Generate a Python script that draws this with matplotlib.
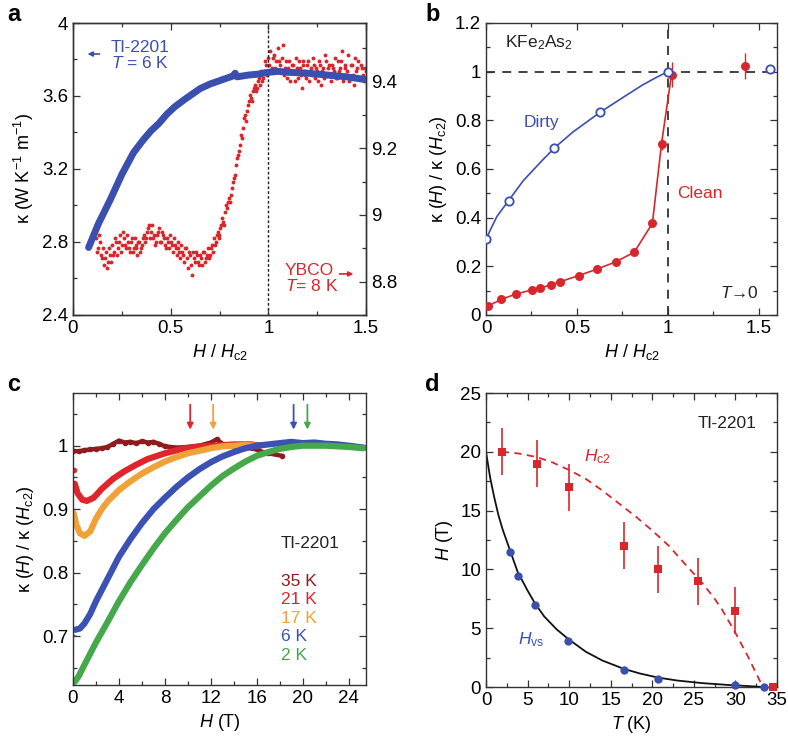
import numpy as np
import matplotlib.pyplot as plt
from matplotlib.ticker import MultipleLocator, FormatStrFormatter

plt.rcParams['font.family'] = ['Liberation Sans', 'DejaVu Sans']
plt.rcParams['mathtext.fontset'] = 'custom'
plt.rcParams['mathtext.rm'] = 'Liberation Sans'
plt.rcParams['mathtext.it'] = 'Liberation Sans:italic'
plt.rcParams['mathtext.bf'] = 'Liberation Sans:bold'
plt.rcParams['axes.linewidth'] = 1.0
plt.rcParams['axes.edgecolor'] = '#333333'

BLUE = '#3b4fae'
RED = '#d8262d'
TICK_FS = 13.5
LABEL_FS = 13
TEXT_FS = 12.5

# ---- panel a: Tl-2201 (left axis) and YBCO (right axis) ----
a_tl_h = [0.08, 0.13, 0.19, 0.25, 0.31, 0.36, 0.40, 0.44, 0.48, 0.52, 0.57, 0.61,
          0.65, 0.70, 0.74, 0.78, 0.82, 0.83, 0.84, 0.90, 0.95, 1.00, 1.05, 1.10,
          1.20, 1.30, 1.40, 1.50]
a_tl_k = [2.77, 2.90, 3.03, 3.17, 3.29, 3.36, 3.41, 3.45, 3.50, 3.54, 3.58, 3.61,
          3.64, 3.665, 3.68, 3.695, 3.71, 3.725, 3.705, 3.715, 3.72, 3.73, 3.735, 3.73,
          3.725, 3.715, 3.705, 3.69]

# YBCO sweep, two interleaved sets of readings (field step 0.01)
a_yb_k1 = [8.93, 8.90, 8.92, 8.87, 8.85, 8.89, 8.86, 8.88, 8.91, 8.89,
           8.92, 8.90, 8.94, 8.91, 8.93, 8.90, 8.92, 8.89, 8.93, 8.90,
           8.91, 8.88, 8.92, 8.90, 8.93, 8.92, 8.95, 8.97, 8.95, 8.93,
           8.91, 8.94, 8.96, 8.92, 8.94, 8.91, 8.93, 8.90, 8.92, 8.89,
           8.91, 8.88, 8.90, 8.87, 8.89, 8.86, 8.90, 8.84, 8.88, 8.82,
           8.87, 8.89, 8.86, 8.88, 8.85, 8.89, 8.87, 8.90, 8.88, 8.91,
           8.93, 8.92, 8.95, 8.94, 8.97, 8.98, 9.01, 9.02, 9.05, 9.06,
           9.10, 9.12, 9.17, 9.19, 9.24, 9.26, 9.30, 9.31, 9.34, 9.35,
           9.37, 9.39, 9.38, 9.41, 9.42, 9.40, 9.43, 9.45, 9.47, 9.49,
           9.44, 9.48, 9.46, 9.50, 9.45, 9.47, 9.42, 9.46, 9.44, 9.40,
           9.45, 9.43, 9.47, 9.41, 9.44, 9.38, 9.46, 9.42, 9.45, 9.40,
           9.44, 9.47, 9.41, 9.43, 9.46, 9.39, 9.44, 9.48, 9.42, 9.45,
           9.40, 9.44, 9.47, 9.41, 9.43, 9.46, 9.40, 9.44, 9.42, 9.48,
           9.41, 9.45, 9.39, 9.43, 9.46, 9.41, 9.44, 9.40, 9.43]
a_yb_k2 = [8.89, 8.94, 8.88, 8.90, 8.87, 8.84, 8.90, 8.86, 8.88, 8.93,
           8.88, 8.92, 8.89, 8.95, 8.91, 8.94, 8.90, 8.92, 8.89, 8.93,
           8.90, 8.92, 8.89, 8.91, 8.94, 8.93, 8.96, 8.93, 8.97, 8.94,
           8.92, 8.95, 8.92, 8.95, 8.93, 8.90, 8.92, 8.94, 8.91, 8.93,
           8.90, 8.92, 8.89, 8.91, 8.88, 8.90, 8.87, 8.89, 8.85, 8.89,
           8.86, 8.88, 8.85, 8.87, 8.89, 8.86, 8.88, 8.87, 8.90, 8.89,
           8.91, 8.94, 8.93, 8.96, 8.99, 8.97, 9.03, 9.04, 9.04, 9.08,
           9.11, 9.15, 9.18, 9.21, 9.23, 9.29, 9.28, 9.33, 9.36, 9.34,
           9.38, 9.37, 9.40, 9.39, 9.43, 9.41, 9.46, 9.42, 9.45, 9.43,
           9.47, 9.44, 9.43, 9.46, 9.43, 9.51, 9.44, 9.41, 9.46, 9.43,
           9.45, 9.40, 9.44, 9.46, 9.42, 9.45, 9.43, 9.41, 9.46, 9.43,
           9.42, 9.45, 9.44, 9.40, 9.45, 9.43, 9.41, 9.46, 9.44, 9.42,
           9.45, 9.43, 9.41, 9.46, 9.44, 9.49, 9.42, 9.45, 9.43, 9.40,
           9.45, 9.42, 9.47, 9.44, 9.41, 9.45, 9.42, 9.44]
a_yb_h1 = np.round(0.12 + 0.01 * np.arange(len(a_yb_k1)), 3)
a_yb_h2 = np.round(0.125 + 0.01 * np.arange(len(a_yb_k2)), 3)

# ---- panel b: KFe2As2 ----
b_dirty_h = [0.0, 0.124, 0.375, 0.627, 1.0]
b_dirty_k = [0.311, 0.47, 0.686, 0.833, 1.0]
b_dirty_line_h = [0.0, 0.024, 0.06, 0.124, 0.205, 0.296, 0.375, 0.478, 0.627, 0.751, 0.86, 0.933, 1.0]
b_dirty_line_k = [0.311, 0.35, 0.405, 0.47, 0.552, 0.625, 0.686, 0.752, 0.833, 0.893, 0.945, 0.975, 1.0]
b_dirty_extra_h = [1.56]
b_dirty_extra_k = [1.011]
b_clean_h = [0.011, 0.084, 0.164, 0.251, 0.296, 0.358, 0.409, 0.509, 0.609, 0.715, 0.815, 0.915, 0.965, 1.02]
b_clean_k = [0.037, 0.064, 0.086, 0.103, 0.112, 0.123, 0.137, 0.162, 0.188, 0.219, 0.258, 0.377, 0.704, 0.988]
b_clean_err = [0, 0, 0, 0, 0, 0, 0, 0, 0, 0, 0, 0, 0.025, 0.05]
b_clean_extra_h = [1.424]
b_clean_extra_k = [1.022]
b_clean_extra_err = [0.053]

# ---- panel c: Tl-2201 kappa(H)/kappa(Hc2) ----
c_35_h = [0, 0.5, 1, 1.5, 2, 2.5, 3, 3.5, 4, 4.5, 5, 5.5, 6, 6.5, 7, 7.5, 8, 9, 10,
          11, 12, 12.5, 13, 14, 15, 16, 16.5, 17, 18.2]
c_35_k = [0.992, 0.991, 0.993, 0.994, 0.995, 0.996, 0.998, 1.003, 1.008, 1.005, 1.006,
          1.004, 1.007, 1.005, 1.006, 1.003, 0.999, 0.997, 0.998, 1.0, 1.005, 1.01,
          1.003, 1.0, 0.997, 0.994, 0.99, 0.988, 0.984]
c_21_h = [0.15, 0.4, 0.8, 1.2, 1.8, 2.5, 3.5, 4.5, 5.5, 6.5, 8, 9.5, 11, 12.5, 14, 15.5, 16.3]
c_21_k = [0.94, 0.925, 0.915, 0.913, 0.918, 0.932, 0.948, 0.96, 0.97, 0.979, 0.988,
          0.995, 0.999, 1.0, 1.002, 1.002, 1.0]
c_17_h = [0.05, 0.3, 0.6, 1.0, 1.5, 2, 2.5, 3, 4, 5, 6, 7, 8, 9, 10, 11, 12, 13, 14, 15, 16]
c_17_k = [0.894, 0.875, 0.862, 0.858, 0.865, 0.885, 0.9, 0.912, 0.93, 0.944, 0.956,
          0.966, 0.975, 0.982, 0.988, 0.992, 0.996, 0.999, 1.0, 1.001, 1.0]
c_6_h = [0.2, 0.6, 1, 1.5, 2, 3, 4, 5, 6, 7, 8, 9, 10, 11, 12, 13, 14, 15, 16, 17,
         18, 19, 20, 21, 22, 23, 24, 25.3]
c_6_k = [0.71, 0.712, 0.72, 0.735, 0.755, 0.79, 0.825, 0.853, 0.878, 0.9, 0.918, 0.935,
         0.95, 0.963, 0.974, 0.983, 0.99, 0.996, 1.0, 1.002, 1.004, 1.006, 1.004, 1.005,
         1.003, 1.002, 1.0, 0.997]
c_2_h = [0.15, 0.5, 1, 2, 3, 4, 5, 6, 7, 8, 9, 10, 11, 12, 13, 14, 15, 16, 17, 18, 19,
         20, 22, 24, 25.3]
c_2_k = [0.628, 0.637, 0.655, 0.69, 0.722, 0.755, 0.785, 0.812, 0.838, 0.862, 0.883,
         0.903, 0.92, 0.937, 0.952, 0.964, 0.975, 0.984, 0.99, 0.995, 0.998, 1.0, 1.0,
         0.998, 0.996]
c_zero_k = {'21': 0.962, '6': 0.70}
c_arrow_h = [10.2, 12.2, 19.2, 20.4]
c_labels = ['35 K', '21 K', '17 K', '6 K', '2 K']

# ---- panel d: phase diagram ----
d_hc2_t = [1.9, 6.1, 10.0, 16.6, 20.7, 25.5, 29.9]
d_hc2_h = [20, 19, 17, 12, 10, 9, 6.5]
d_hc2_err = [2, 2, 2, 2, 2, 2, 2]
d_tc_t = [34.5]
d_tc_h = [0]
d_hvs_t = [2.9, 3.8, 5.9, 9.86, 16.55, 20.7, 29.9, 33.4]
d_hvs_h = [11.46, 9.45, 6.97, 3.94, 1.45, 0.65, 0.17, 0.0]
d_hvs_fit_t = [0, 0.5, 1, 1.5, 2, 2.9, 3.8, 5, 5.9, 7, 8.5, 9.86, 12, 14, 16.55, 18.5,
               20.7, 23, 26, 29, 31.5, 33.4]
d_hvs_fit_h = [20, 17.8, 16.1, 14.6, 13.4, 11.6, 9.8, 8.2, 7.1, 6.0, 4.9, 4.1, 3.0, 2.25,
               1.55, 1.15, 0.8, 0.55, 0.33, 0.18, 0.08, 0.0]
d_hc2_fit_t = [1.9, 4, 6.1, 8, 10.06, 12, 14, 16, 18, 20, 22, 24, 26, 27.5, 28.4, 30,
               31.5, 32.7, 33.3]
d_hc2_fit_h = [20, 19.85, 19.55, 19.1, 18.43, 17.7, 16.7, 15.6, 14.5, 13.3, 12.0, 10.4,
               8.86, 7.5, 6.57, 4.6, 2.6, 0.86, 0]


def style(ax, right=True):
    ax.tick_params(which='both', direction='in', top=True, right=right,
                   labelsize=TICK_FS, color='#333333')
    ax.tick_params(which='major', length=5, width=0.9)
    ax.tick_params(which='minor', length=3, width=0.9)
    ax.xaxis.set_major_formatter(FormatStrFormatter('%g'))
    ax.yaxis.set_major_formatter(FormatStrFormatter('%g'))


fig = plt.figure(figsize=(7.88, 7.39), dpi=100)
W, H = 788, 739


def axes_px(l, t, r, b):
    return fig.add_axes([l / W, 1 - b / H, (r - l) / W, (b - t) / H])


# ===== a =====
ax = axes_px(73, 23, 366, 315)
ax.plot(a_tl_h, a_tl_k, color=BLUE, lw=5, solid_capstyle='round', zorder=3)
ax.set_xlim(0, 1.5)
ax.set_ylim(2.4, 4.0)
ax.xaxis.set_major_locator(MultipleLocator(0.5))
ax.xaxis.set_minor_locator(MultipleLocator(0.25))
ax.yaxis.set_major_locator(MultipleLocator(0.4))
ax.yaxis.set_minor_locator(MultipleLocator(0.2))
style(ax, right=False)
ax.axvline(1.0, color='#222222', lw=1, ls=(0, (2, 1.5)), zorder=1)
ax.set_xlabel('$H$ / $H_{\\rm c2}$', fontsize=LABEL_FS)
ax.set_ylabel('κ (W K$^{-1}$ m$^{-1}$)', fontsize=LABEL_FS)
ax.annotate('', xy=(0.06, 3.83), xytext=(0.15, 3.83),
            arrowprops=dict(arrowstyle='-|>', color=BLUE, lw=1.2, mutation_scale=7))
ax.text(0.195, 3.822, 'Tl-2201\n$T$ = 6 K', color=BLUE, fontsize=TEXT_FS, va='center',
        linespacing=1.0)
ax.text(1.085, 2.598, 'YBCO\n$T$= 8 K', color=RED, fontsize=TEXT_FS, va='center',
        linespacing=1.0)
ax.annotate('', xy=(1.45, 2.625), xytext=(1.35, 2.625),
            arrowprops=dict(arrowstyle='-|>', color=RED, lw=1.2, mutation_scale=7))
ax.patch.set_alpha(0)
axr = ax.twinx()
axr.set_zorder(ax.get_zorder() - 1)
ax.set_zorder(axr.get_zorder() + 1)
axr.plot(a_yb_h1, a_yb_k1, 'o', color=RED, ms=2.8, mew=0)
axr.plot(a_yb_h2, a_yb_k2, 'o', color=RED, ms=2.8, mew=0)
axr.set_ylim(8.70, 9.575)
axr.yaxis.set_major_locator(MultipleLocator(0.2))
axr.yaxis.set_minor_locator(MultipleLocator(0.1))
axr.tick_params(which='both', direction='in', labelsize=TICK_FS, color='#333333')
axr.tick_params(which='major', length=5, width=0.9)
axr.tick_params(which='minor', length=3, width=0.9)
axr.yaxis.set_major_formatter(FormatStrFormatter('%g'))

# ===== b =====
ax = axes_px(486, 23, 777, 315)
ax.axhline(1.0, color='#333333', lw=1.3, ls=(0, (5, 4)), zorder=1)
ax.axvline(1.0, color='#333333', lw=1.3, ls=(0, (5, 4)), zorder=1)
ax.plot(b_dirty_line_h, b_dirty_line_k, color=BLUE, lw=1.2, zorder=2)
ax.plot(b_dirty_h + b_dirty_extra_h, b_dirty_k + b_dirty_extra_k, 'o', mfc='white',
        mec=BLUE, mew=1.3, ms=6, zorder=4)
ax.plot(b_clean_h, b_clean_k, color=RED, lw=1.2, zorder=2)
ax.errorbar(b_clean_h, b_clean_k, yerr=b_clean_err, fmt='o', color=RED, ms=6.5,
            mew=0, elinewidth=1.0, capsize=2.5, zorder=3)
ax.errorbar(b_clean_extra_h, b_clean_extra_k, yerr=b_clean_extra_err, fmt='o', color=RED,
            ms=6.5, mew=0, elinewidth=1.0, capsize=2.5, zorder=3)
ax.set_xlim(0, 1.6)
ax.set_ylim(0, 1.2)
ax.xaxis.set_major_locator(MultipleLocator(0.5))
ax.xaxis.set_minor_locator(MultipleLocator(0.25))
ax.yaxis.set_major_locator(MultipleLocator(0.2))
ax.yaxis.set_minor_locator(MultipleLocator(0.1))
style(ax)
ax.set_xlabel('$H$ / $H_{\\rm c2}$', fontsize=LABEL_FS)
ax.set_ylabel('κ ($H$) / κ ($H_{\\rm c2}$)', fontsize=LABEL_FS)
ax.text(0.105, 1.118, 'KFe$_2$As$_2$', fontsize=TEXT_FS, va='center', color='#222222')
ax.text(0.205, 0.79, 'Dirty', fontsize=TEXT_FS, va='center', color=BLUE)
ax.text(1.05, 0.50, 'Clean', fontsize=TEXT_FS, va='center', color=RED)
ax.text(1.5, 0.09, '$T$→0', fontsize=TEXT_FS, va='center', ha='right', color='#222222')

# ===== c =====
ax = axes_px(73, 393, 366, 685)
c_colors = ['#8e1b1d', '#e0262c', '#f0a238', '#3b52b4', '#45a84a']
ax.plot(c_35_h, c_35_k, color=c_colors[0], lw=3.2, marker='o', ms=3, solid_capstyle='round')
ax.plot(c_21_h, c_21_k, color=c_colors[1], lw=4.5, solid_capstyle='round')
ax.plot([0.05], [c_zero_k['21']], 'o', color=c_colors[1], ms=4, mew=0)
ax.plot(c_17_h, c_17_k, color=c_colors[2], lw=4.5, solid_capstyle='round')
ax.plot(c_6_h, c_6_k, color=c_colors[3], lw=4.5, solid_capstyle='round')
ax.plot([0.05], [c_zero_k['6']], '>', color=c_colors[3], ms=4, mew=0)
ax.plot(c_2_h, c_2_k, color=c_colors[4], lw=4.5, solid_capstyle='round')
for h, col in zip(c_arrow_h, c_colors[1:]):
    ax.annotate('', xy=(h, 1.021), xytext=(h, 1.069),
                arrowprops=dict(arrowstyle='-|>', color=col, lw=1.3, mutation_scale=9))
ax.set_xlim(0, 25.5)
ax.set_ylim(0.623, 1.083)
ax.xaxis.set_major_locator(MultipleLocator(4))
ax.xaxis.set_minor_locator(MultipleLocator(2))
ax.yaxis.set_major_locator(MultipleLocator(0.1))
ax.yaxis.set_minor_locator(MultipleLocator(0.05))
style(ax)
ax.set_xlabel('$H$ (T)', fontsize=LABEL_FS)
ax.set_ylabel('κ ($H$) / κ ($H_{\\rm c2}$)', fontsize=LABEL_FS)
ax.text(18.1, 0.846, 'Tl-2201', fontsize=TEXT_FS, va='center', color='#222222')
for i, (lab, col) in enumerate(zip(c_labels, c_colors)):
    ax.text(18.1, 0.786 - 0.029 * i, lab, fontsize=TEXT_FS, va='center', color=col)

# ===== d =====
ax = axes_px(486, 393, 777, 687)
ax.plot(d_hvs_fit_t, d_hvs_fit_h, color='#111111', lw=1.3, zorder=2)
ax.plot(d_hc2_fit_t, d_hc2_fit_h, color=RED, lw=1.3, ls=(0, (4, 3)), zorder=2)
ax.errorbar(d_hc2_t, d_hc2_h, yerr=d_hc2_err, fmt='s', color=RED, ms=6, mew=0,
            elinewidth=1.2, capsize=3, zorder=3)
ax.plot(d_tc_t, d_tc_h, 's', color=RED, ms=6, mew=0, clip_on=False, zorder=4)
ax.plot(d_hvs_t, d_hvs_h, 'o', color=BLUE, ms=6, mew=0, clip_on=False, zorder=4)
ax.set_xlim(0, 35)
ax.set_ylim(0, 25)
ax.xaxis.set_major_locator(MultipleLocator(5))
ax.xaxis.set_minor_locator(MultipleLocator(2.5))
ax.yaxis.set_major_locator(MultipleLocator(5))
ax.yaxis.set_minor_locator(MultipleLocator(2.5))
style(ax)
ax.set_xlabel('$T$ (K)', fontsize=LABEL_FS)
ax.set_ylabel('$H$ (T)', fontsize=LABEL_FS)
ax.text(25.4, 22.4, 'Tl-2201', fontsize=TEXT_FS, va='center', color='#222222')
ax.text(11.8, 19.6, '$H_{\\rm c2}$', fontsize=TEXT_FS, va='center', color=RED)
ax.text(3.9, 4.0, '$H_{\\rm vs}$', fontsize=TEXT_FS, va='center', color=BLUE)

# panel letters
for lab, x, y in [('a', 7, 3), ('b', 425, 3), ('c', 7, 373), ('d', 425, 373)]:
    fig.text(x / W, 1 - y / H, lab, fontsize=17, fontweight='bold', va='top', ha='left')

fig.savefig('out.png', dpi=100)
